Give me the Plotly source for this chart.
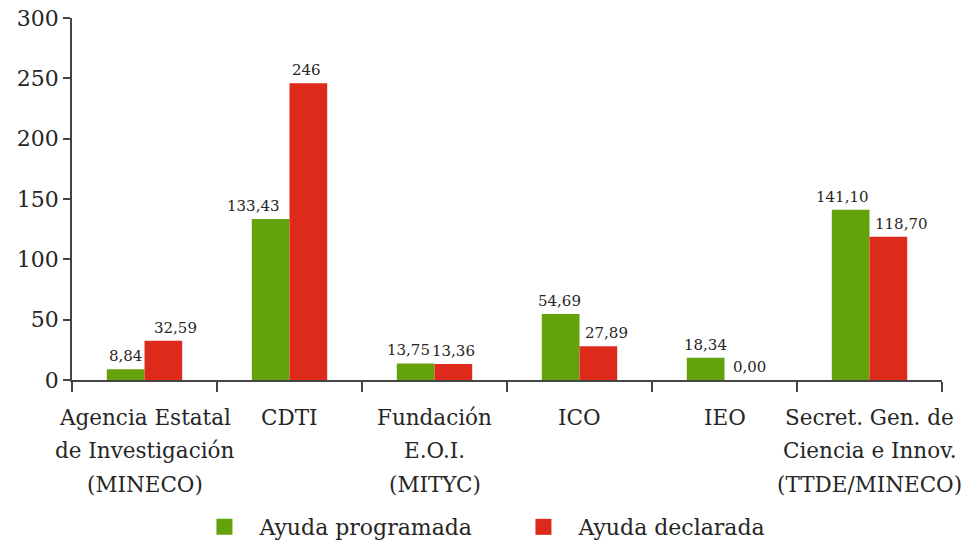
import plotly.graph_objects as go

categories = ["AEI", "CDTI", "EOI", "ICO", "IEO", "SGCI"]
category_lines = [
    ["Agencia Estatal", "de Investigación", "(MINECO)"],
    ["CDTI"],
    ["Fundación", "E.O.I.", "(MITYC)"],
    ["ICO"],
    ["IEO"],
    ["Secret. Gen. de", "Ciencia e Innov.", "(TTDE/MINECO)"],
]
programada = [8.84, 133.43, 13.75, 54.69, 18.34, 141.10]
declarada = [32.59, 246, 13.36, 27.89, 0.00, 118.70]
programada_txt = ["8,84", "133,43", "13,75", "54,69", "18,34", "141,10"]
declarada_txt = ["32,59", "246", "13,36", "27,89", "0,00", "118,70"]
y_ticks = [0, 50, 100, 150, 200, 250, 300]

# label nudges (px) relative to the bar centre, as in the reference
prog_nudge = [0, -17, -7, -1, 0, -8]
decl_nudge = [12, -2, 0, 8, 6, 13]

FONT = "DejaVu Serif"
GREEN = "#64a20c"
RED = "#dd2a1b"
TXT = "#262626"
BAR_HALF = 145 * (1 - 0.48) / 4  # half of one bar width in px

fig = go.Figure()
fig.add_trace(go.Bar(
    x=categories, y=programada, name="Ayuda programada",
    marker=dict(color=GREEN, line=dict(width=0)), showlegend=False,
))
fig.add_trace(go.Bar(
    x=categories, y=declarada, name="Ayuda declarada",
    marker=dict(color=RED, line=dict(width=0)), showlegend=False,
))
# legend entries with larger square swatches
fig.add_trace(go.Scatter(
    x=[None], y=[None], mode="markers", name="Ayuda programada",
    marker=dict(symbol="square", size=18, color=GREEN),
))
fig.add_trace(go.Scatter(
    x=[None], y=[None], mode="markers", name="Ayuda declarada",
    marker=dict(symbol="square", size=18, color=RED),
))

annotations = []
for cat, lines in zip(categories, category_lines):
    for i, line in enumerate(lines):
        annotations.append(dict(
            x=cat, xref="x", y=0, yref="paper",
            text=line, showarrow=False,
            yanchor="middle", xanchor="center",
            yshift=-37 - 33.5 * i,
            font=dict(family=FONT, size=21.5, color=TXT),
        ))

for vals, txts, nudges, side in ((programada, programada_txt, prog_nudge, -1),
                                 (declarada, declarada_txt, decl_nudge, 1)):
    for cat, v, t, n in zip(categories, vals, txts, nudges):
        annotations.append(dict(
            x=cat, xref="x", y=v, yref="y",
            text=t, showarrow=False,
            xanchor="center", yanchor="bottom",
            xshift=side * BAR_HALF + n, yshift=2,
            font=dict(family=FONT, size=15, color=TXT),
        ))

fig.update_layout(
    width=968, height=549,
    margin=dict(l=72, r=26, t=18, b=169),
    paper_bgcolor="white", plot_bgcolor="white",
    barmode="group", bargap=0.48, bargroupgap=0,
    font=dict(family=FONT, color=TXT),
    showlegend=True,
    legend=dict(
        orientation="h", x=0.135, xanchor="left",
        yref="container", y=0.04, yanchor="middle",
        font=dict(family=FONT, size=22, color=TXT),
        entrywidth=244, itemwidth=60, itemsizing="trace",
    ),
    annotations=annotations,
)
fig.update_xaxes(
    automargin=False, type="category", range=[-0.5, len(categories) - 0.5],
    showline=True, linecolor="#444444", linewidth=1.5,
    ticks="outside", tickson="boundaries", ticklen=10, tickcolor="#444444", tickwidth=1.5,
    showticklabels=False, showgrid=False,
)
fig.update_yaxes(
    automargin=False,
    range=[0, 300], tickvals=y_ticks, ticklabeloverflow="allow",
    showline=True, linecolor="#444444", linewidth=1.5,
    ticks="outside", ticklen=7, tickcolor="#444444", tickwidth=1.5,
    tickfont=dict(family=FONT, size=22, color=TXT),
    showgrid=False, zeroline=False,
)

fig.write_html("out.html", config={"displayModeBar": False},
               post_script="document.body.style.margin='0';")
